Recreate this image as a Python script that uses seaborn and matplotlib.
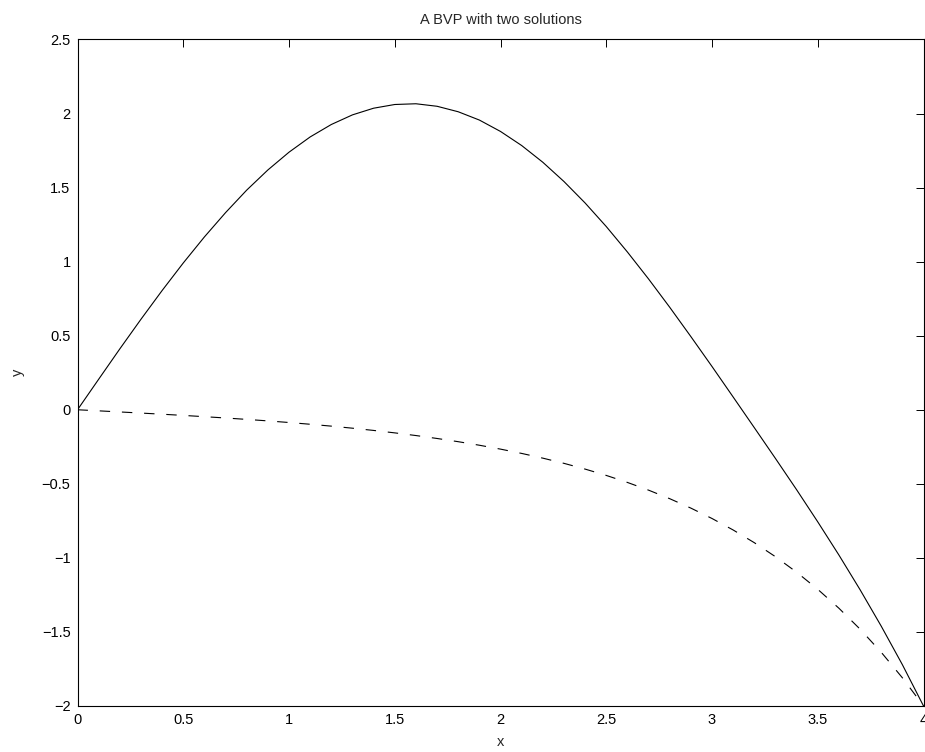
import numpy as np
import pandas as pd
import matplotlib
matplotlib.use("Agg")
import matplotlib.pyplot as plt
import seaborn as sns
from matplotlib.ticker import FuncFormatter

# values
x_vals = [0.0, 0.1, 0.2, 0.3, 0.4, 0.5, 0.6, 0.7, 0.8, 0.9,
          1.0, 1.1, 1.2, 1.3, 1.4, 1.5, 1.6, 1.7, 1.8, 1.9,
          2.0, 2.1, 2.2, 2.3, 2.4, 2.5, 2.6, 2.7, 2.8, 2.9,
          3.0, 3.1, 3.2, 3.3, 3.4, 3.5, 3.6, 3.7, 3.8, 3.9, 4.0]

y_solid = [0.0, 0.206, 0.411, 0.611, 0.805, 0.991, 1.167, 1.331, 1.483, 1.619,
           1.739, 1.842, 1.926, 1.991, 2.036, 2.061, 2.066, 2.049, 2.012, 1.956,
           1.879, 1.784, 1.671, 1.541, 1.396, 1.237, 1.065, 0.883, 0.692, 0.494,
           0.292, 0.086, -0.121, -0.329, -0.540, -0.757, -0.981, -1.215, -1.461, -1.721, -2.0]

y_dashed = [0.0, -0.0073, -0.0148, -0.0223, -0.0301, -0.0382, -0.0467, -0.0556, -0.0651, -0.0752,
            -0.0861, -0.0979, -0.1106, -0.1245, -0.1396, -0.1561, -0.1741, -0.1939, -0.2156, -0.2395,
            -0.2658, -0.2948, -0.3267, -0.3618, -0.4006, -0.4434, -0.4907, -0.5428, -0.6004, -0.6640,
            -0.7342, -0.8118, -0.8975, -0.9922, -1.0968, -1.2124, -1.3401, -1.4813, -1.6373, -1.8096, -2.0]

x_ticks = [0, 0.5, 1, 1.5, 2, 2.5, 3, 3.5, 4]
y_ticks = [-2, -1.5, -1, -0.5, 0, 0.5, 1, 1.5, 2, 2.5]

sns.set_style("white")
plt.rcParams['font.family'] = ['Liberation Sans', 'DejaVu Sans']
plt.rcParams['lines.scale_dashes'] = False

df = pd.DataFrame({'x': x_vals, 'solid': y_solid, 'dashed': y_dashed})

fig = plt.figure(figsize=(9.25, 7.52), dpi=100)
ax = fig.add_axes([0.0838, 0.0612, 0.9146, 0.8863])

sns.lineplot(data=df, x='x', y='solid', color='black', linewidth=0.8, ax=ax)
sns.lineplot(data=df, x='x', y='dashed', color='black', linewidth=0.8,
             linestyle=(0, (7.5, 8.5)), ax=ax)

ax.set_xlim(0, 4)
ax.set_ylim(-2, 2.5)
ax.set_xticks(x_ticks)
ax.set_yticks(y_ticks)
fmt = FuncFormatter(lambda v, p: f"{v:g}".replace('-', '\u2212'))
ax.xaxis.set_major_formatter(fmt)
ax.yaxis.set_major_formatter(fmt)

ax.tick_params(direction='in', length=6, width=0.7, top=True, right=True,
               labelsize=10.5, colors='black', pad=5)
for s in ax.spines.values():
    s.set_linewidth(0.8)
    s.set_color('black')

ax.set_title('A BVP with two solutions', fontsize=10.5, pad=11)
ax.set_xlabel('x', fontsize=10.5, labelpad=6)
ax.set_ylabel('y', fontsize=10.5, labelpad=12)

fig.savefig('out.png', dpi=100)
plt.close()
